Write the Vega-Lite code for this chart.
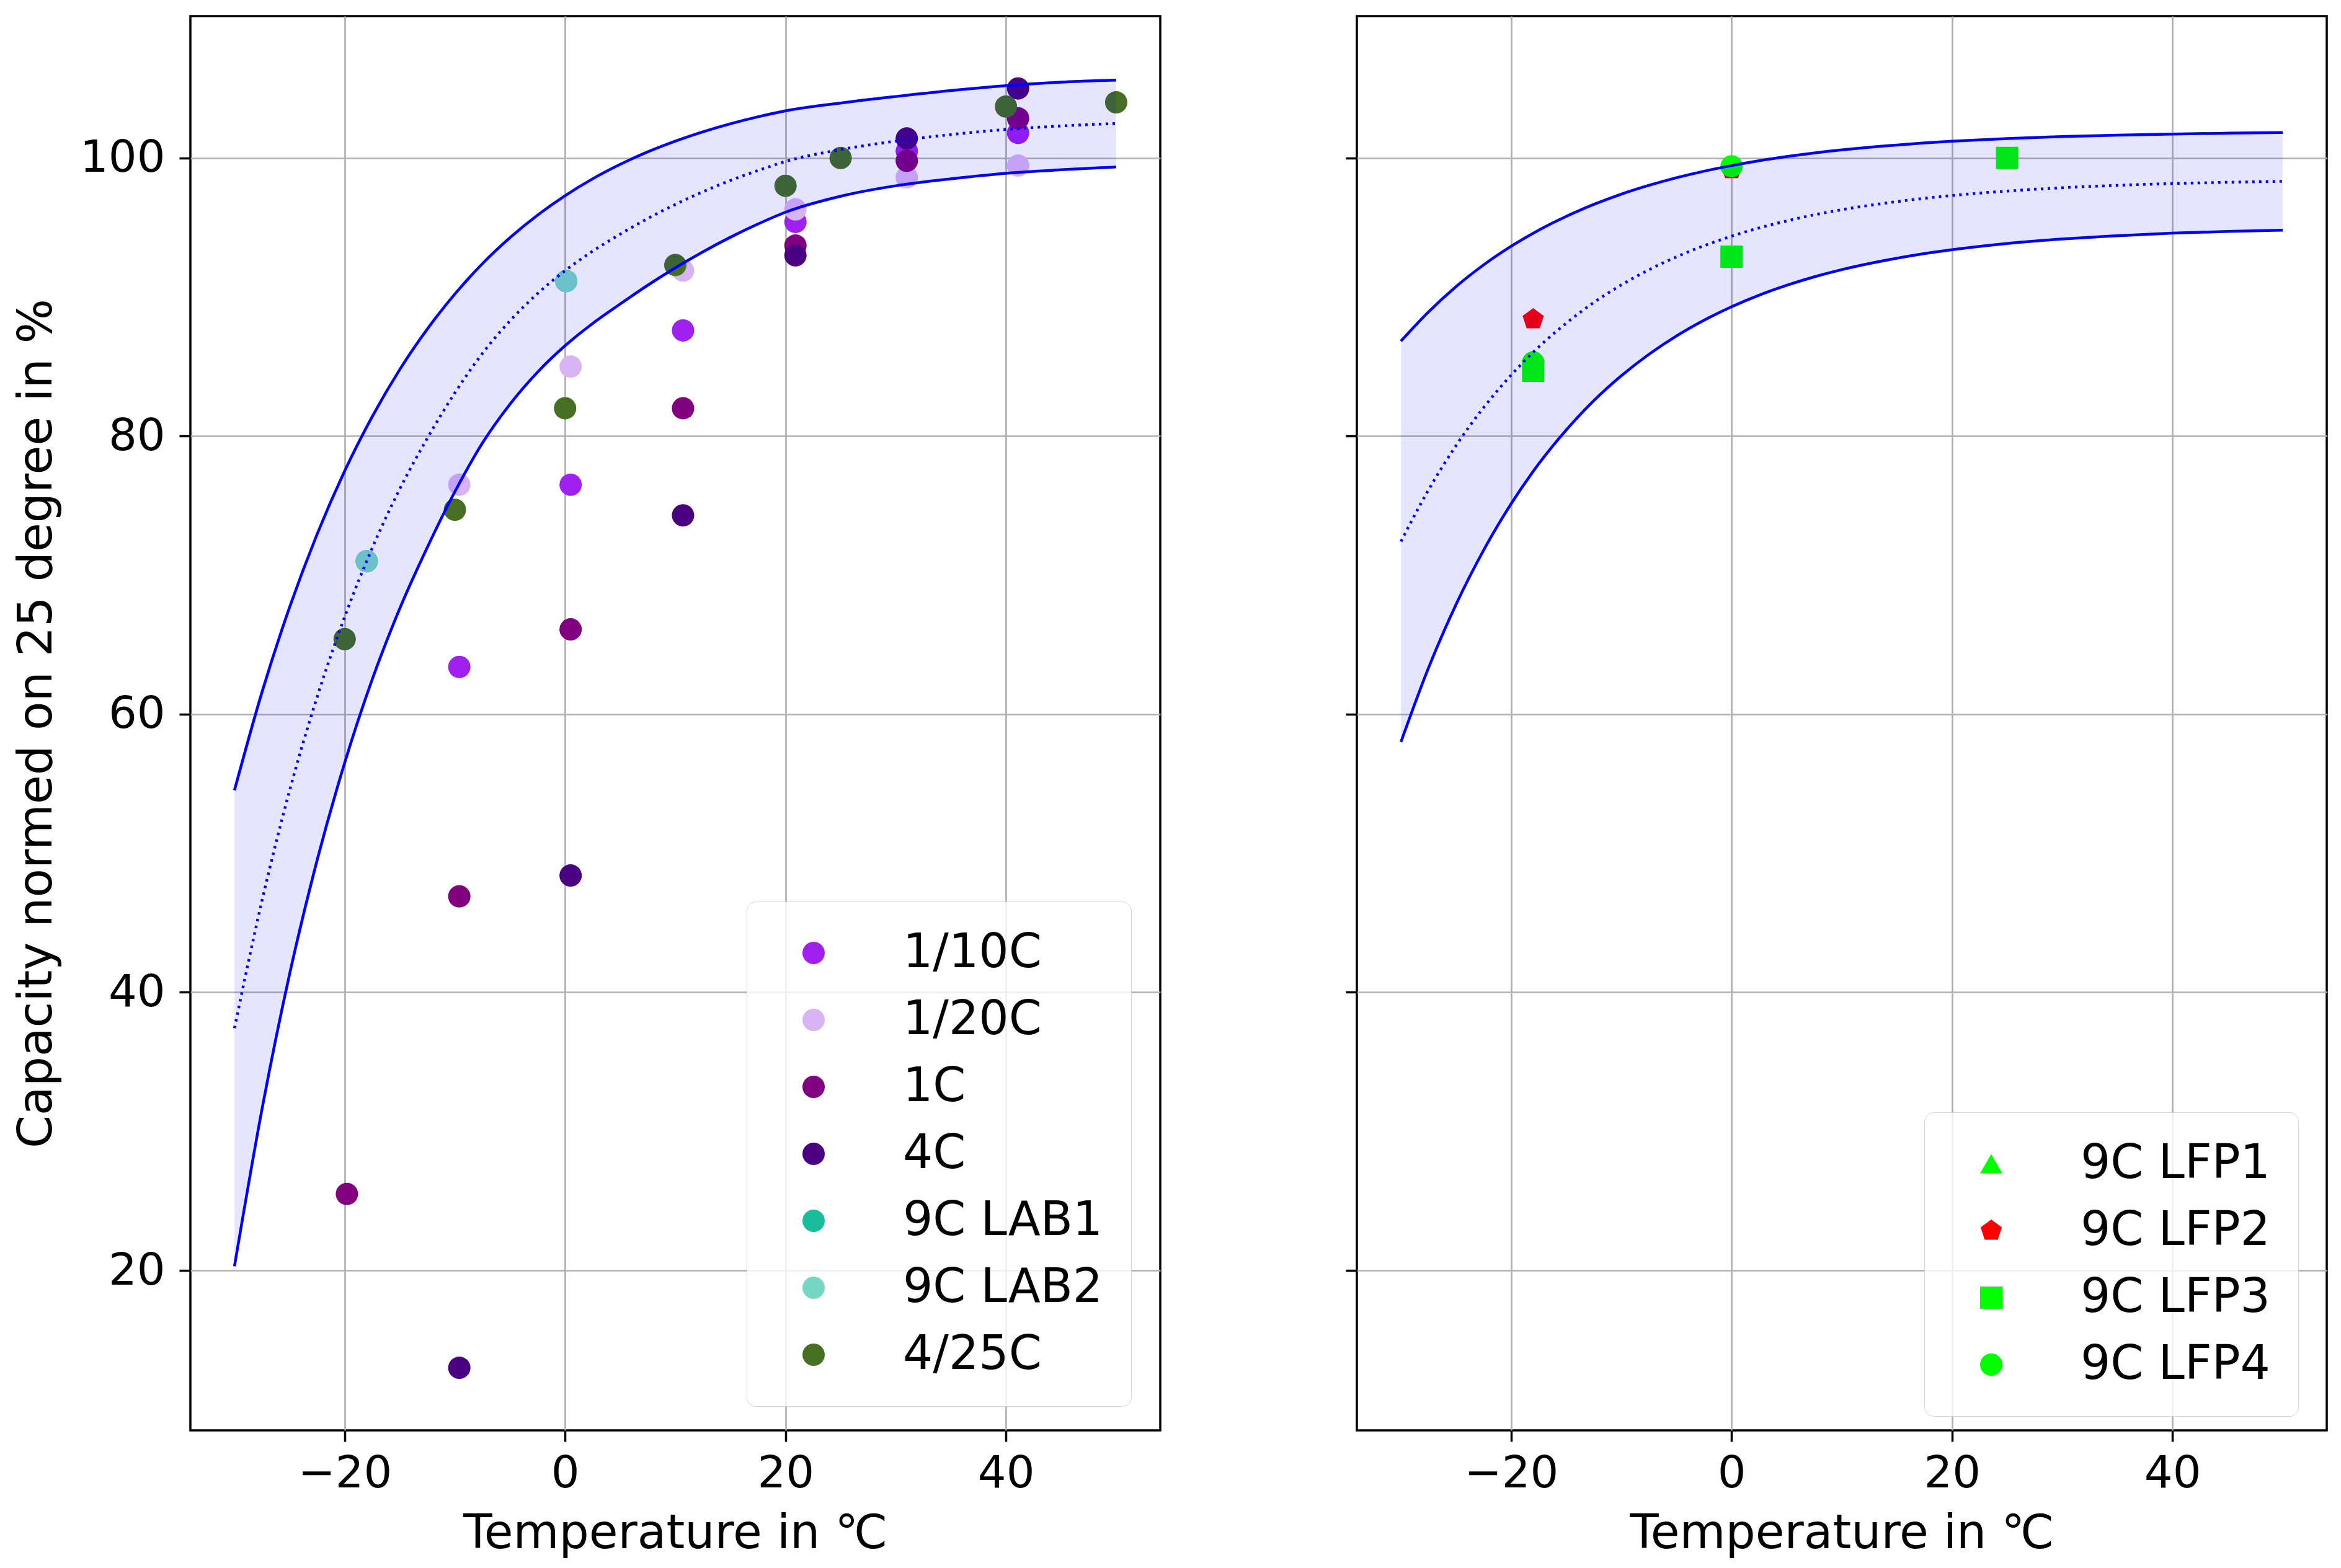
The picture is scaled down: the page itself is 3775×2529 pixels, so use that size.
{
  "$schema": "https://vega.github.io/schema/vega-lite/v6.json",
  "background": "white",
  "padding": {"left": 19, "top": 24, "right": 10, "bottom": 5},
  "config": {
    "font": "DejaVu Sans",
    "view": {"stroke": "black", "strokeWidth": 3.5},
    "axis": {
      "grid": true, "gridColor": "#b0b0b0", "gridWidth": 2.7, "gridOpacity": 1,
      "domain": false, "tickColor": "black", "tickSize": 18, "tickWidth": 3.5,
      "labelFontSize": 72, "labelColor": "black", "labelFont": "DejaVu Sans",
      "titleFontSize": 76, "titleFontWeight": "normal", "titleColor": "black", "titleFont": "DejaVu Sans",
      "zindex": 1
    },
    "axisX": {"labelPadding": 16, "titlePadding": 24},
    "axisY": {"labelPadding": 23, "titlePadding": 30},
    "legend": {
      "labelFontSize": 76, "labelColor": "black", "labelFont": "DejaVu Sans", "labelLimit": 1000,
      "symbolSize": 1296, "symbolStrokeWidth": 0, "symbolOpacity": 1,
      "padding": 45, "rowPadding": 32, "labelOffset": 106, "symbolOffset": 25,
      "fillColor": "rgba(255,255,255,0.8)", "strokeColor": "#d6d6d6", "cornerRadius": 15
    }
  },
  "datasets": {
    "ptsL": [
      {"T": -9.6, "C": 63.4, "series": "1/10C"},
      {"T": 0.5, "C": 76.5, "series": "1/10C"},
      {"T": 10.7, "C": 87.6, "series": "1/10C"},
      {"T": 20.9, "C": 95.4, "series": "1/10C"},
      {"T": 31, "C": 100.5, "series": "1/10C"},
      {"T": 41.1, "C": 101.8, "series": "1/10C"},
      {"T": -9.6, "C": 76.5, "series": "1/20C"},
      {"T": 0.5, "C": 85.0, "series": "1/20C"},
      {"T": 10.7, "C": 91.9, "series": "1/20C"},
      {"T": 20.9, "C": 96.3, "series": "1/20C"},
      {"T": 31, "C": 98.6, "series": "1/20C"},
      {"T": 41.1, "C": 99.45, "series": "1/20C"},
      {"T": -19.8, "C": 25.5, "series": "1C"},
      {"T": -9.6, "C": 46.9, "series": "1C"},
      {"T": 0.5, "C": 66.1, "series": "1C"},
      {"T": 10.7, "C": 82.0, "series": "1C"},
      {"T": 20.9, "C": 93.7, "series": "1C"},
      {"T": 31, "C": 99.8, "series": "1C"},
      {"T": 41.1, "C": 102.85, "series": "1C"},
      {"T": -9.6, "C": 13.0, "series": "4C"},
      {"T": 0.5, "C": 48.4, "series": "4C"},
      {"T": 10.7, "C": 74.3, "series": "4C"},
      {"T": 20.9, "C": 93.0, "series": "4C"},
      {"T": 31, "C": 101.4, "series": "4C"},
      {"T": 41.1, "C": 105.0, "series": "4C"},
      {"T": -18, "C": 71.0, "series": "9C LAB1"},
      {"T": 0.1, "C": 91.15, "series": "9C LAB1"},
      {"T": -18, "C": 71.0, "series": "9C LAB2"},
      {"T": 0.1, "C": 91.15, "series": "9C LAB2"},
      {"T": -20, "C": 65.4, "series": "4/25C"},
      {"T": -10, "C": 74.7, "series": "4/25C"},
      {"T": 0, "C": 82.0, "series": "4/25C"},
      {"T": 10, "C": 92.3, "series": "4/25C"},
      {"T": 20, "C": 98.0, "series": "4/25C"},
      {"T": 25, "C": 100.0, "series": "4/25C"},
      {"T": 40, "C": 103.7, "series": "4/25C"},
      {"T": 50, "C": 104.0, "series": "4/25C"}
    ],
    "ptsR": [
      {"T": -18, "C": 88.4, "series": "9C LFP2"},
      {"T": 0, "C": 99.2, "series": "9C LFP2"},
      {"T": -18, "C": 84.7, "series": "9C LFP3"},
      {"T": 0, "C": 92.9, "series": "9C LFP3"},
      {"T": 25, "C": 100.0, "series": "9C LFP3"},
      {"T": -18, "C": 85.3, "series": "9C LFP4"},
      {"T": 0, "C": 99.4, "series": "9C LFP4"}
    ],
    "curveL": [
      {"T": -30, "lo": 20.3, "mid": 37.42, "hi": 54.53},
      {"T": -27.5, "lo": 31.6, "mid": 46.6, "hi": 61.59},
      {"T": -25, "lo": 41.3, "mid": 54.5, "hi": 67.69},
      {"T": -22.5, "lo": 49.5, "mid": 61.23, "hi": 72.95},
      {"T": -20, "lo": 56.5, "mid": 67.0, "hi": 77.49},
      {"T": -17.5, "lo": 62.5, "mid": 71.95, "hi": 81.4},
      {"T": -15, "lo": 67.6, "mid": 76.2, "hi": 84.79},
      {"T": -12.5, "lo": 72.0, "mid": 79.85, "hi": 87.7},
      {"T": -10, "lo": 76.0, "mid": 83.11, "hi": 90.22},
      {"T": -7.5, "lo": 79.5, "mid": 85.95, "hi": 92.4},
      {"T": -5, "lo": 82.3, "mid": 88.29, "hi": 94.27},
      {"T": -2.5, "lo": 84.6, "mid": 90.25, "hi": 95.89},
      {"T": 0, "lo": 86.5, "mid": 91.9, "hi": 97.29},
      {"T": 2.5, "lo": 88.1, "mid": 93.3, "hi": 98.5},
      {"T": 5, "lo": 89.5, "mid": 94.52, "hi": 99.54},
      {"T": 7.5, "lo": 90.85, "mid": 95.65, "hi": 100.44},
      {"T": 10, "lo": 92.1, "mid": 96.66, "hi": 101.21},
      {"T": 12.5, "lo": 93.25, "mid": 97.57, "hi": 101.88},
      {"T": 15, "lo": 94.3, "mid": 98.38, "hi": 102.46},
      {"T": 17.5, "lo": 95.25, "mid": 99.1, "hi": 102.96},
      {"T": 20, "lo": 96.1, "mid": 99.75, "hi": 103.39},
      {"T": 25, "lo": 97.25, "mid": 100.6, "hi": 103.95},
      {"T": 30, "lo": 98.0, "mid": 101.21, "hi": 104.42},
      {"T": 35, "lo": 98.5, "mid": 101.68, "hi": 104.85},
      {"T": 40, "lo": 98.9, "mid": 102.05, "hi": 105.2},
      {"T": 45, "lo": 99.15, "mid": 102.3, "hi": 105.45},
      {"T": 50, "lo": 99.35, "mid": 102.48, "hi": 105.6}
    ],
    "curveR": [
      {"T": -30, "lo": 58.0, "mid": 72.42, "hi": 86.83},
      {"T": -27.5, "lo": 63.33, "mid": 76.13, "hi": 88.93},
      {"T": -25, "lo": 67.89, "mid": 79.32, "hi": 90.75},
      {"T": -22.5, "lo": 71.79, "mid": 82.05, "hi": 92.31},
      {"T": -20, "lo": 75.13, "mid": 84.39, "hi": 93.65},
      {"T": -17.5, "lo": 78.0, "mid": 86.41, "hi": 94.81},
      {"T": -15, "lo": 80.44, "mid": 88.12, "hi": 95.8},
      {"T": -12.5, "lo": 82.55, "mid": 89.61, "hi": 96.66},
      {"T": -10, "lo": 84.34, "mid": 90.87, "hi": 97.4},
      {"T": -7.5, "lo": 85.88, "mid": 91.96, "hi": 98.03},
      {"T": -5, "lo": 87.2, "mid": 92.89, "hi": 98.58},
      {"T": -2.5, "lo": 88.33, "mid": 93.69, "hi": 99.05},
      {"T": 0, "lo": 89.3, "mid": 94.38, "hi": 99.45},
      {"T": 2.5, "lo": 90.13, "mid": 94.97, "hi": 99.8},
      {"T": 5, "lo": 90.84, "mid": 95.47, "hi": 100.1},
      {"T": 7.5, "lo": 91.45, "mid": 95.91, "hi": 100.36},
      {"T": 10, "lo": 91.97, "mid": 96.28, "hi": 100.58},
      {"T": 12.5, "lo": 92.41, "mid": 96.59, "hi": 100.77},
      {"T": 15, "lo": 92.79, "mid": 96.86, "hi": 100.93},
      {"T": 17.5, "lo": 93.12, "mid": 97.1, "hi": 101.08},
      {"T": 20, "lo": 93.4, "mid": 97.3, "hi": 101.2},
      {"T": 25, "lo": 93.85, "mid": 97.62, "hi": 101.39},
      {"T": 30, "lo": 94.17, "mid": 97.86, "hi": 101.54},
      {"T": 35, "lo": 94.41, "mid": 98.03, "hi": 101.64},
      {"T": 40, "lo": 94.59, "mid": 98.16, "hi": 101.72},
      {"T": 45, "lo": 94.72, "mid": 98.25, "hi": 101.78},
      {"T": 50, "lo": 94.81, "mid": 98.32, "hi": 101.83}
    ]
  },
  "spacing": 293,
  "resolve": {"scale": {"color": "independent", "shape": "independent", "x": "independent", "y": "independent"}},
  "hconcat": [
    {
      "width": 1564,
      "height": 2281,
      "layer": [
        {
          "data": {"name": "ptsL"},
          "mark": {"type": "point", "filled": true, "opacity": 1, "size": 1296, "shape": "circle"},
          "encoding": {
            "x": {"field": "T", "type": "quantitative", "title": "Temperature in ℃", "scale": {"domain": [-34, 54], "nice": false, "zero": false}, "axis": {"values": [-20, 0, 20, 40]}},
            "y": {"field": "C", "type": "quantitative", "title": "Capacity normed on 25 degree in %", "scale": {"domain": [8.5, 110.2], "nice": false, "zero": false}, "axis": {"values": [20, 40, 60, 80, 100]}},
            "color": {
              "field": "series", "type": "nominal", "sort": null,
              "scale": {
                "domain": ["1/10C", "1/20C", "1C", "4C", "9C LAB1", "9C LAB2", "4/25C"],
                "range": ["#a020f0", "#d8b4f5", "#800080", "#4b0082", "#1abc9c", "#76d7c4", "#466f22"]
              },
              "legend": {"orient": "none", "legendX": 897, "legendY": 1428, "title": null, "zindex": 2}
            }
          }
        },
        {
          "data": {"name": "curveL"},
          "mark": {"type": "area", "color": "blue", "opacity": 0.1, "interpolate": "monotone"},
          "encoding": {
            "x": {"field": "T", "type": "quantitative", "title": "Temperature in ℃"},
            "y": {"field": "lo", "type": "quantitative", "title": "Capacity normed on 25 degree in %"},
            "y2": {"field": "hi"}
          }
        },
        {
          "data": {"name": "curveL"},
          "mark": {"type": "line", "color": "blue", "strokeWidth": 4.5, "interpolate": "monotone"},
          "encoding": {
            "x": {"field": "T", "type": "quantitative", "title": "Temperature in ℃"},
            "y": {"field": "hi", "type": "quantitative", "title": "Capacity normed on 25 degree in %"}
          }
        },
        {
          "data": {"name": "curveL"},
          "mark": {"type": "line", "color": "blue", "strokeWidth": 4.5, "interpolate": "monotone"},
          "encoding": {
            "x": {"field": "T", "type": "quantitative", "title": "Temperature in ℃"},
            "y": {"field": "lo", "type": "quantitative", "title": "Capacity normed on 25 degree in %"}
          }
        },
        {
          "data": {"name": "curveL"},
          "mark": {"type": "line", "color": "blue", "strokeWidth": 4.5, "strokeDash": [4, 7], "interpolate": "monotone"},
          "encoding": {
            "x": {"field": "T", "type": "quantitative", "title": "Temperature in ℃"},
            "y": {"field": "mid", "type": "quantitative", "title": "Capacity normed on 25 degree in %"}
          }
        }
      ]
    },
    {
      "width": 1564,
      "height": 2281,
      "layer": [
        {
          "data": {"name": "ptsR"},
          "mark": {"type": "point", "filled": true, "opacity": 1, "size": 1296},
          "encoding": {
            "x": {"field": "T", "type": "quantitative", "title": "Temperature in ℃", "scale": {"domain": [-34, 54], "nice": false, "zero": false}, "axis": {"values": [-20, 0, 20, 40]}},
            "y": {"field": "C", "type": "quantitative", "title": null, "scale": {"domain": [8.5, 110.2], "nice": false, "zero": false}, "axis": {"values": [20, 40, 60, 80, 100], "labels": false, "title": null}},
            "color": {
              "field": "series", "type": "nominal", "sort": null,
              "scale": {
                "domain": ["9C LFP1", "9C LFP2", "9C LFP3", "9C LFP4"],
                "range": ["#00ff00", "#ff0000", "#00ff00", "#00ff00"]
              },
              "legend": {"orient": "none", "legendX": 915, "legendY": 1768, "title": null, "zindex": 2}
            },
            "shape": {
              "field": "series", "type": "nominal", "sort": null,
              "scale": {
                "domain": ["9C LFP1", "9C LFP2", "9C LFP3", "9C LFP4"],
                "range": ["triangle-up", "M0,-1L0.951,-0.309L0.588,0.809L-0.588,0.809L-0.951,-0.309Z", "square", "circle"]
              },
              "legend": {"orient": "none", "legendX": 915, "legendY": 1768, "title": null, "zindex": 2}
            }
          }
        },
        {
          "data": {"name": "curveR"},
          "mark": {"type": "area", "color": "blue", "opacity": 0.1, "interpolate": "monotone"},
          "encoding": {
            "x": {"field": "T", "type": "quantitative", "title": "Temperature in ℃"},
            "y": {"field": "lo", "type": "quantitative", "title": null},
            "y2": {"field": "hi"}
          }
        },
        {
          "data": {"name": "curveR"},
          "mark": {"type": "line", "color": "blue", "strokeWidth": 4.5, "interpolate": "monotone"},
          "encoding": {
            "x": {"field": "T", "type": "quantitative", "title": "Temperature in ℃"},
            "y": {"field": "hi", "type": "quantitative", "title": null}
          }
        },
        {
          "data": {"name": "curveR"},
          "mark": {"type": "line", "color": "blue", "strokeWidth": 4.5, "interpolate": "monotone"},
          "encoding": {
            "x": {"field": "T", "type": "quantitative", "title": "Temperature in ℃"},
            "y": {"field": "lo", "type": "quantitative", "title": null}
          }
        },
        {
          "data": {"name": "curveR"},
          "mark": {"type": "line", "color": "blue", "strokeWidth": 4.5, "strokeDash": [4, 7], "interpolate": "monotone"},
          "encoding": {
            "x": {"field": "T", "type": "quantitative", "title": "Temperature in ℃"},
            "y": {"field": "mid", "type": "quantitative", "title": null}
          }
        }
      ]
    }
  ]
}
